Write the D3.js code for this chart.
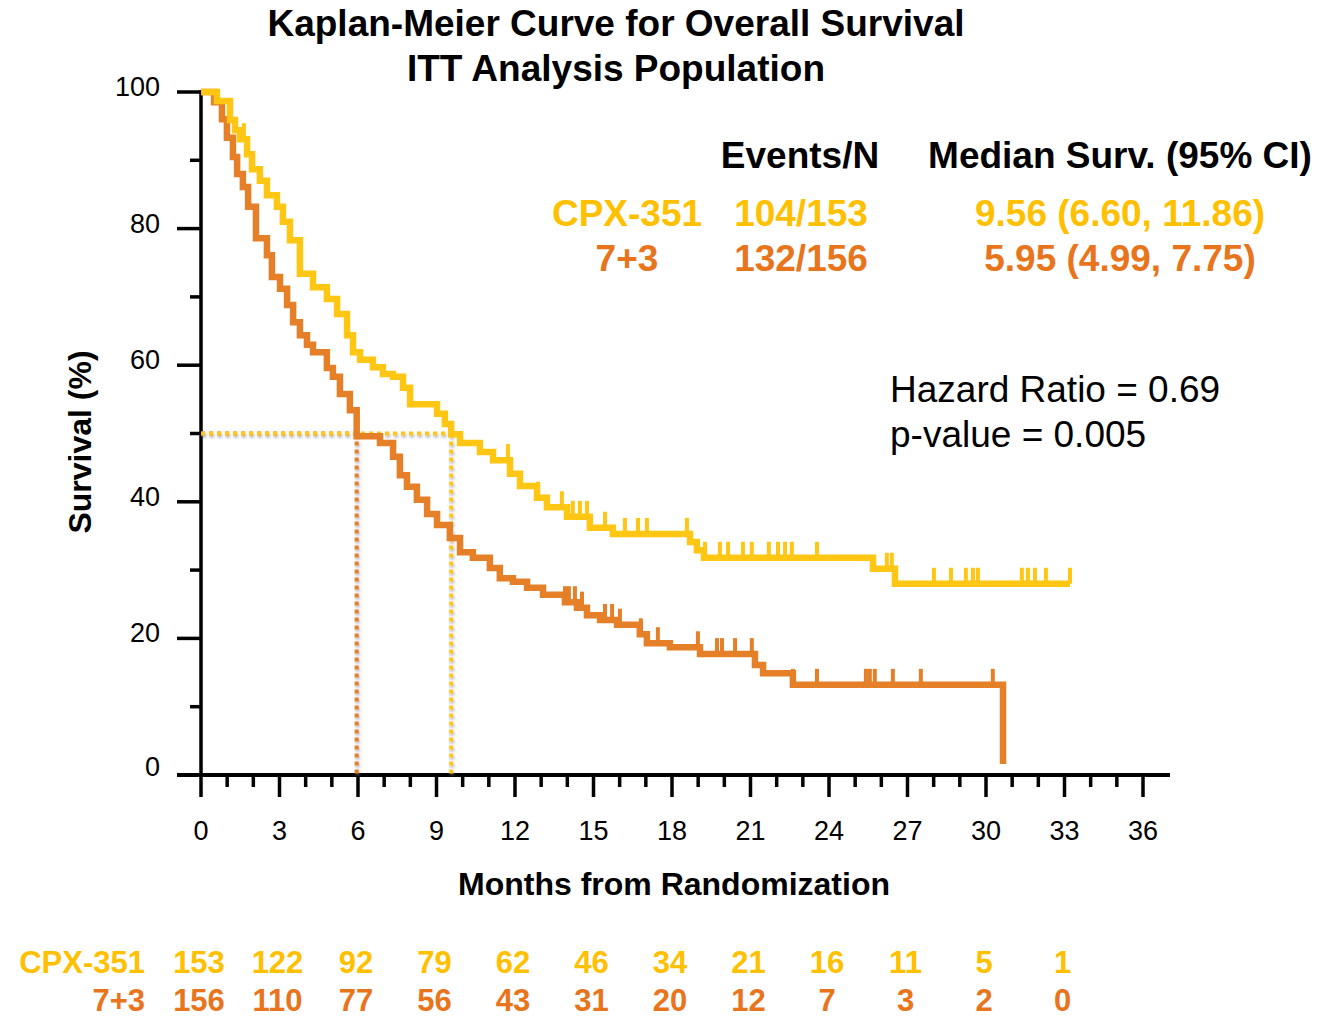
<!DOCTYPE html>
<html>
<head>
<meta charset="utf-8">
<script src="https://cdn.jsdelivr.net/npm/d3@7"></script>
<style>
  body { margin: 0; background: #fff; }
  svg { display: block; font-family: 'Liberation Sans', Arial, sans-serif; }
</style>
</head>
<body>
<div id="chart"></div>
<script>
// ---- data ----
const xTicks = d3.range(0, 37, 3);
const xMinor = d3.range(0, 37, 1);
const yTicks = [0, 20, 40, 60, 80, 100];
const yMinor = [10, 30, 50, 70, 90];

const groups = ['CPX-351', '7+3'];
const eventsN = ['104/153', '132/156'];
const medianText = ['9.56 (6.60, 11.86)', '5.95 (4.99, 7.75)'];
const medians = [9.56, 5.95];

// [month, survival %] -- survival holds from that month on
const cpxSteps = [
  [0, 100], [0.61, 98.7], [1.11, 95.9], [1.30, 94.4], [1.49, 93.1], [1.76, 90.9],
  [1.95, 88.7], [2.25, 87.0], [2.52, 84.9], [2.90, 83.2], [3.13, 81.0], [3.40, 78.3],
  [3.78, 73.4], [4.28, 71.4], [4.81, 69.7], [5.20, 67.5], [5.58, 64.4], [5.81, 61.9],
  [6.08, 60.8], [6.57, 59.7], [6.95, 58.7], [7.34, 58.3], [7.72, 56.7], [7.99, 54.3],
  [9.02, 52.9], [9.32, 51.4], [9.56, 49.9], [9.90, 48.6], [10.66, 47.3], [11.16, 46.1],
  [11.81, 44.1], [12.19, 42.3], [12.84, 40.6], [13.22, 39.2], [13.99, 37.8], [14.86, 36.2],
  [15.74, 35.3], [18.69, 34.1], [18.95, 32.9], [19.22, 31.8], [25.68, 30.2], [26.52, 28.0]
];
const cpxEnd = 33.21;
const cpxCensor = [1.64, 11.73, 12.88, 13.79, 14.21, 14.48, 14.75, 15.44, 16.20, 16.70,
  17.04, 18.57, 19.26, 19.83, 20.14, 20.71, 21.05, 21.70, 22.05, 22.32, 22.58, 23.54,
  26.21, 26.40, 28.01, 28.66, 29.23, 29.50, 29.69, 31.37, 31.60, 31.87, 32.29, 33.21];

const ctlSteps = [
  [0, 100], [0.50, 98.5], [0.80, 96.0], [0.99, 93.3], [1.22, 90.5], [1.38, 88.0],
  [1.60, 86.1], [1.80, 83.2], [2.10, 78.6], [2.52, 76.1], [2.71, 72.9], [3.02, 71.2],
  [3.29, 68.8], [3.52, 66.3], [3.78, 64.4], [4.05, 63.0], [4.28, 61.9], [4.81, 59.6],
  [5.04, 58.3], [5.31, 55.8], [5.69, 53.4], [5.95, 49.6], [6.84, 48.6], [7.34, 46.6],
  [7.60, 43.9], [7.87, 42.2], [8.25, 40.3], [8.64, 38.2], [9.02, 36.6], [9.51, 34.7],
  [9.90, 32.6], [10.39, 31.8], [11.04, 30.3], [11.42, 28.8], [11.92, 28.3], [12.46, 27.4],
  [13.07, 26.4], [13.91, 25.3], [14.37, 24.5], [14.75, 23.4], [15.25, 22.7], [15.90, 22.0],
  [16.77, 20.6], [17.04, 19.3], [17.92, 18.7], [19.07, 17.7], [21.17, 16.1], [21.48, 14.9],
  [22.62, 13.2], [30.65, 1.6]
];
const ctlEnd = 30.65;
const ctlCensor = [13.91, 14.06, 14.29, 14.56, 15.44, 15.71, 16.01, 16.81, 17.46, 18.99,
  19.72, 19.91, 20.41, 21.05, 22.62, 23.54, 25.41, 25.56, 25.75, 26.44, 27.51, 30.26];

const riskTimes = d3.range(0, 34, 3);
const cpxRisk = [153, 122, 92, 79, 62, 46, 34, 21, 16, 11, 5, 1];
const ctlRisk = [156, 110, 77, 56, 43, 31, 20, 12, 7, 3, 2, 0];

// ---- drawing ----
const yellow = '#FFC613';
const orange = '#E57F28';
const yellowText = '#FFC000';
const orangeText = '#E8741C';

const svg = d3.select('#chart').append('svg')
  .attr('width', 1319).attr('height', 1017);

const defs = svg.append('defs');
const shadow = defs.append('filter').attr('id', 'shadow')
  .attr('x', '-50%').attr('y', '-50%').attr('width', '200%').attr('height', '200%');
shadow.append('feDropShadow').attr('dx', 1).attr('dy', 2).attr('stdDeviation', 1.5)
  .attr('flood-color', '#777').attr('flood-opacity', 0.6);

const x = d3.scaleLinear().domain([0, 36]).range([201, 1143]);
const y = d3.scaleLinear().domain([0, 100]).range([775, 92]);

// titles
svg.append('text').attr('x', 616).attr('y', 36).attr('text-anchor', 'middle')
  .style('font-weight', 'bold').style('font-size', '37px')
  .text('Kaplan-Meier Curve for Overall Survival');
svg.append('text').attr('x', 616).attr('y', 81).attr('text-anchor', 'middle')
  .style('font-weight', 'bold').style('font-size', '37px')
  .text('ITT Analysis Population');

// axes
const axes = svg.append('g').attr('stroke', '#000');
axes.append('line').attr('x1', x(0)).attr('x2', x(0)).attr('y1', y(100) - 2).attr('y2', y(0))
  .attr('stroke-width', 3.5);
axes.append('line').attr('x1', 177).attr('x2', 1170).attr('y1', y(0)).attr('y2', y(0))
  .attr('stroke-width', 4);
axes.selectAll('.ymaj').data(yTicks.filter(d => d > 0)).enter().append('line')
  .attr('x1', 177).attr('x2', x(0)).attr('y1', d => y(d)).attr('y2', d => y(d))
  .attr('stroke-width', 3.5);
axes.selectAll('.ymin').data(yMinor).enter().append('line')
  .attr('x1', 190).attr('x2', x(0)).attr('y1', d => y(d)).attr('y2', d => y(d))
  .attr('stroke-width', 3.5);
axes.selectAll('.xt').data(xMinor).enter().append('line')
  .attr('x1', d => x(d)).attr('x2', d => x(d))
  .attr('y1', y(0)).attr('y2', d => y(0) + (d % 3 === 0 ? 22 : 12))
  .attr('stroke-width', 3.5);

svg.selectAll('.ylab').data(yTicks).enter().append('text')
  .attr('x', 160).attr('y', d => y(d) + (d === 0 ? 1 : 4)).attr('text-anchor', 'end')
  .style('font-size', '27px').text(d => d);
svg.selectAll('.xlab').data(xTicks).enter().append('text')
  .attr('x', d => x(d)).attr('y', 840).attr('text-anchor', 'middle')
  .style('font-size', '27px').text(d => d);

svg.append('text').attr('transform', 'translate(91,442) rotate(-90)')
  .attr('text-anchor', 'middle').style('font-weight', 'bold').style('font-size', '32px')
  .text('Survival (%)');
svg.append('text').attr('x', 674).attr('y', 895).attr('text-anchor', 'middle')
  .style('font-weight', 'bold').style('font-size', '32px')
  .text('Months from Randomization');

// median reference lines (dotted with soft shadow)
const ref = svg.append('g').attr('filter', 'url(#shadow)')
  .attr('stroke-width', 4).attr('stroke-dasharray', '4,4').attr('fill', 'none');
ref.append('line').attr('x1', x(0)).attr('x2', x(medians[1])).attr('y1', y(50)).attr('y2', y(50))
  .attr('stroke', orange);
ref.append('line').attr('x1', x(medians[1])).attr('x2', x(medians[1])).attr('y1', y(50)).attr('y2', y(0))
  .attr('stroke', orange);
ref.append('line').attr('x1', x(0)).attr('x2', x(medians[0])).attr('y1', y(50)).attr('y2', y(50))
  .attr('stroke', yellow);
ref.append('line').attr('x1', x(medians[0])).attr('x2', x(medians[0])).attr('y1', y(50)).attr('y2', y(0))
  .attr('stroke', yellow);

// KM curves
const line = d3.line().x(d => x(d[0])).y(d => y(d[1])).curve(d3.curveStepAfter);
function survAt(steps, t) {
  let s = steps[0][1];
  steps.forEach(d => { if (d[0] <= t) s = d[1]; });
  return s;
}
function drawCurve(steps, end, censor, color) {
  const pts = steps.concat([[end, steps[steps.length - 1][1]]]);
  svg.append('path').datum(pts).attr('d', line)
    .attr('fill', 'none').attr('stroke', color).attr('stroke-width', 6.5);
  svg.append('g').selectAll('line').data(censor).enter().append('line')
    .attr('x1', d => x(d)).attr('x2', d => x(d))
    .attr('y1', d => y(survAt(steps, d))).attr('y2', d => y(survAt(steps, d)) - 16)
    .attr('stroke', color).attr('stroke-width', 4);
}
drawCurve(ctlSteps, ctlEnd, ctlCensor, orange);
drawCurve(cpxSteps, cpxEnd, cpxCensor, yellow);

// legend table
const leg = svg.append('g').style('font-weight', 'bold').style('font-size', '37px')
  .attr('text-anchor', 'middle');
leg.append('text').attr('x', 800).attr('y', 168).text('Events/N');
leg.append('text').attr('x', 1120).attr('y', 168).text('Median Surv. (95% CI)');
[yellowText, orangeText].forEach((c, i) => {
  const yy = 226 + i * 45;
  leg.append('text').attr('x', 627).attr('y', yy).attr('fill', c).text(groups[i]);
  leg.append('text').attr('x', 801).attr('y', yy).attr('fill', c).text(eventsN[i]);
  leg.append('text').attr('x', 1120).attr('y', yy).attr('fill', c).text(medianText[i]);
});

svg.append('text').attr('x', 890).attr('y', 402).style('font-size', '37px')
  .text('Hazard Ratio = 0.69');
svg.append('text').attr('x', 890).attr('y', 447).style('font-size', '37px')
  .text('p-value = 0.005');

// number at risk
const risk = svg.append('g').style('font-weight', 'bold').style('font-size', '31px');
[[cpxRisk, yellowText, 973], [ctlRisk, orangeText, 1011]].forEach((r, i) => {
  risk.append('text').attr('x', 145).attr('y', r[2]).attr('text-anchor', 'end')
    .attr('fill', r[1]).text(groups[i]);
  risk.selectAll('.n' + i).data(r[0]).enter().append('text')
    .attr('x', (d, j) => x(riskTimes[j]) - 2).attr('y', r[2])
    .attr('text-anchor', 'middle').attr('fill', r[1]).text(d => d);
});
</script>
</body>
</html>
